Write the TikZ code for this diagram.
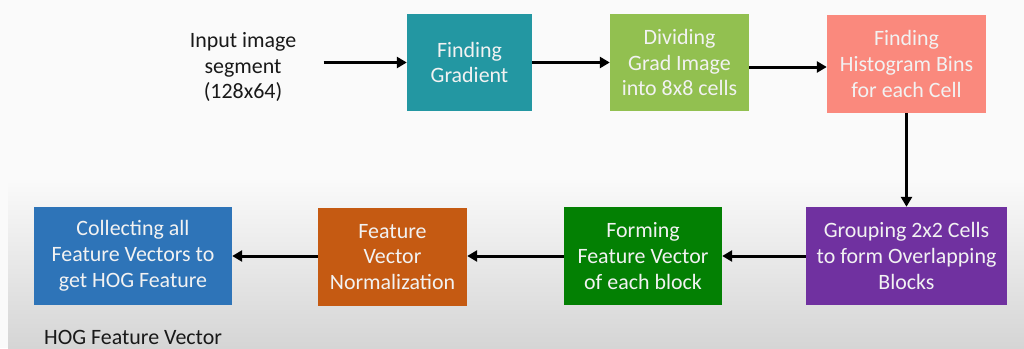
\documentclass[tikz,border=0pt]{standalone}
\usepackage{fontspec}
\setmainfont{Carlito}
\usetikzlibrary{arrows.meta}
\definecolor{bgtop}{HTML}{FAFAFA}
\definecolor{bgbot}{HTML}{D5D5D5}
\definecolor{gradcol}{HTML}{2397A2}
\definecolor{dividecol}{HTML}{92C050}
\definecolor{histcol}{HTML}{FA897D}
\definecolor{groupcol}{HTML}{7031A0}
\definecolor{formcol}{HTML}{038003}
\definecolor{normcol}{HTML}{C55A12}
\definecolor{collectcol}{HTML}{2E74B8}
\definecolor{boxtext}{HTML}{F2F2F2}
\tikzset{
  stage/.style={inner sep=0pt,align=center,text=boxtext,
    font=\fontsize{22}{26}\selectfont},
  flow/.style={-{Triangle[length=10bp,width=11bp]},line width=3bp,black}
}
\begin{document}
\begin{tikzpicture}[x=1bp,y=-1bp]
\useasboundingbox (0,0) rectangle (1024,348);
% background
\fill[bgtop] (0,0) rectangle (1024,348);
\shade[top color=bgtop,bottom color=bgbot] (8,180) rectangle (1024,348);
% top row
\node[align=center,text=black!90,font=\fontsize{22}{26}\selectfont] (input) at (243,67) {Input image\\segment\\(128x64)};
\node[stage,fill=gradcol,minimum width=125bp,minimum height=97bp] (grad) at (469.5,62.5) {Finding\\Gradient};
\node[stage,fill=dividecol,minimum width=139bp,minimum height=97bp] (divide) at (679.5,62.5) {Dividing\\Grad Image\\into 8x8 cells};
\node[stage,fill=histcol,minimum width=159bp,minimum height=98bp] (hist) at (906.5,64) {Finding\\Histogram Bins\\for each Cell};
% bottom row
\node[stage,fill=groupcol,minimum width=201bp,minimum height=98bp] (group) at (906.5,256) {Grouping 2x2 Cells\\to form Overlapping\\Blocks};
\node[stage,fill=formcol,minimum width=158bp,minimum height=98bp] (form) at (643,256) {Forming\\Feature Vector\\of each block};
\node[stage,fill=normcol,minimum width=149bp,minimum height=98bp] (norm) at (392.5,257) {Feature\\Vector\\Normalization};
\node[stage,fill=collectcol,minimum width=198bp,minimum height=98bp] (collect) at (133,256) {Collecting all\\Feature Vectors to\\get HOG Feature};
\node[anchor=west,inner sep=0pt,text=black!90,font=\fontsize{22}{26}\selectfont] (hoglabel) at (44,337) {HOG Feature Vector};
% arrows
\draw[flow,shorten <=24bp] (input.east |- grad.west) -- (grad.west);
\draw[flow] (grad.east) -- (divide.east -| divide.west);
\draw[flow] (divide.east |- 0,67) -- (hist.west |- 0,67);
\draw[flow] (hist.south) -- (group.north);
\draw[flow] (group.west) -- (form.east);
\draw[flow] (form.west) -- (norm.east |- form.west);
\draw[flow] (norm.west |- collect.east) -- (collect.east);
\end{tikzpicture}
\end{document}
